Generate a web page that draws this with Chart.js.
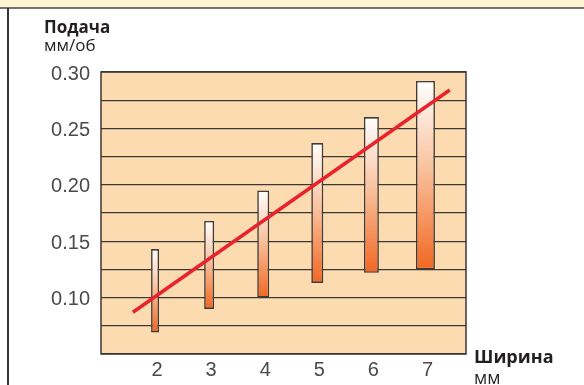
<!DOCTYPE html>
<html>
<head>
<meta charset="utf-8">
<script src="https://cdn.jsdelivr.net/npm/chart.js@4/dist/chart.umd.min.js"></script>
<style>
  html, body { margin: 0; padding: 0; background: #ffffff; }
  canvas { display: block; }
</style>
</head>
<body>
<canvas id="c" width="584" height="385"></canvas>
<script>
// Cut width, mm
const widths = [2, 3, 4, 5, 6, 7];
// Feed range for each width, mm/rev
const feedMin = [0.069, 0.090, 0.100, 0.113, 0.122, 0.125];
const feedMax = [0.143, 0.168, 0.195, 0.237, 0.260, 0.292];
// Trend line end points
const trendX = [1.59, 7.45];
const trendY = [0.087, 0.284];
// Labelled feed values on the vertical axis
const feedTicks = [0.10, 0.15, 0.20, 0.25, 0.30];

// Bar widths in pixels (style)
const barPx = [8, 10, 12, 12, 15, 19];

function barGradient(ctx) {
  const chart = ctx.chart;
  const area = chart.chartArea;
  if (!area || ctx.type !== 'data' || !ctx.raw) return '#f7a577';
  const y = chart.scales.y;
  const top = y.getPixelForValue(ctx.raw.y[1]);
  const bottom = y.getPixelForValue(ctx.raw.y[0]);
  const g = chart.ctx.createLinearGradient(0, top, 0, bottom);
  g.addColorStop(0, '#ffffff');
  g.addColorStop(0.45, '#f9c3a0');
  g.addColorStop(1, '#f26722');
  return g;
}

const barSets = widths.map((w, i) => ({
  type: 'bar',
  data: [{ x: w, y: [feedMin[i], feedMax[i]] }],
  backgroundColor: barGradient,
  borderColor: '#3d3a38',
  borderWidth: 1.6,
  borderSkipped: false,
  grouped: false,
  maxBarThickness: barPx[i],
  order: 2
}));

const trendSet = {
  type: 'line',
  data: trendX.map((x, i) => ({ x: x, y: trendY[i] })),
  borderColor: '#e8232b',
  borderWidth: 3.5,
  pointRadius: 0,
  fill: false,
  order: 0
};

const framePlugin = {
  id: 'frame',
  beforeDraw(chart) {
    const c = chart.ctx;
    const a = chart.chartArea;
    c.save();
    c.fillStyle = '#ffffff';
    c.fillRect(0, 0, chart.width, chart.height);
    // header strip
    c.fillStyle = '#fdf4d2';
    c.fillRect(0, 0, chart.width, 7.5);
    c.strokeStyle = '#4a4642';
    c.lineWidth = 1.5;
    c.beginPath();
    c.moveTo(0, 8);
    c.lineTo(chart.width, 8);
    c.stroke();
    // left frame edge
    c.strokeStyle = '#3a3633';
    c.lineWidth = 2;
    c.beginPath();
    c.moveTo(8, 8);
    c.lineTo(8, chart.height);
    c.stroke();
    // plot background
    c.fillStyle = '#fddbb1';
    c.fillRect(a.left, a.top, a.right - a.left, a.bottom - a.top);
    c.restore();
  },
  beforeDatasetsDraw(chart) {
    const c = chart.ctx;
    const a = chart.chartArea;
    c.save();
    c.strokeStyle = '#3b3836';
    c.lineWidth = 1.5;
    c.strokeRect(a.left, a.top, a.right - a.left, a.bottom - a.top);
    c.restore();
  },
  afterDraw(chart) {
    const c = chart.ctx;
    c.save();
    c.fillStyle = '#231f20';
    c.textBaseline = 'alphabetic';
    c.textAlign = 'left';
    c.font = 'bold 17px "Open Sans"';
    c.fillText('Подача', 44, 33);
    c.font = '17px "Open Sans"';
    c.fillText('мм/об', 44, 51);
    c.font = 'bold 18px "Open Sans"';
    c.fillText('Ширина', 474, 363);
    c.font = '18px "Open Sans"';
    c.fillText('мм', 474, 384);
    c.restore();
  }
};

new Chart(document.getElementById('c'), {
  data: { datasets: [trendSet, ...barSets] },
  plugins: [framePlugin],
  options: {
    responsive: false,
    devicePixelRatio: 1,
    animation: false,
    layout: { padding: { top: 72, right: 118, left: 0, bottom: 0 } },
    plugins: { legend: { display: false }, tooltip: { enabled: false } },
    scales: {
      x: {
        type: 'linear',
        offset: false,
        min: 1,
        max: 7.75,
        afterFit(s) { s.height = 31; },
        afterBuildTicks(s) { s.ticks = widths.map(v => ({ value: v })); },
        grid: { display: false },
        border: { display: false },
        ticks: {
          padding: -4,
          labelOffset: 2,
          color: '#4a4a4a',
          font: { family: '"Liberation Sans", Arial, sans-serif', size: 20 },
          callback: v => String(v)
        }
      },
      y: {
        type: 'linear',
        min: 0.05,
        max: 0.30,
        afterFit(s) { s.width = 101; },
        ticks: {
          stepSize: 0.025,
          padding: 11,
          labelOffset: 2,
          color: '#4a4a4a',
          font: { family: '"Liberation Sans", Arial, sans-serif', size: 20 },
          callback: v => feedTicks.some(t => Math.abs(t - v) < 1e-6) ? v.toFixed(2) : ''
        },
        grid: { color: '#3b3836', lineWidth: 1.3, drawTicks: false },
        border: { display: false }
      }
    }
  }
});
</script>
</body>
</html>
